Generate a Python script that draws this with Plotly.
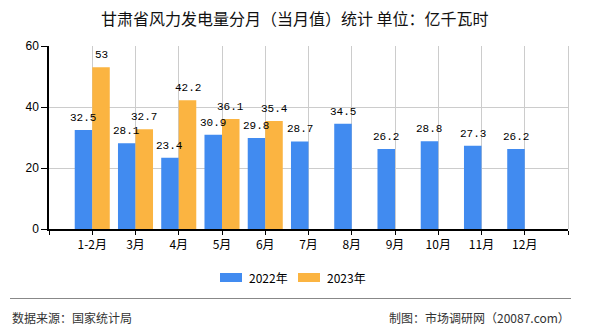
import math
import plotly.graph_objects as go

categories = ["1-2月", "3月", "4月", "5月", "6月", "7月", "8月", "9月", "10月", "11月", "12月"]
values_2022 = [32.5, 28.1, 23.4, 30.9, 29.8, 28.7, 34.5, 26.2, 28.8, 27.3, 26.2]
values_2023 = [53, 32.7, 42.2, 36.1, 35.4, None, None, None, None, None, None]
series_names = ["2022年", "2023年"]
colors = ["#418BF0", "#FBB441"]
y_ticks = [0, 20, 40, 60]

W, H = 590, 330
L, R, T, B = 49, 22, 46, 101
PW, PH = W - L - R, H - T - B
GRID = "#cccccc"
X_MIN, X_MAX = -1, len(categories)


def px_x(x):
    return (x - L) / PW


def px_y(y):
    return (H - B - y) / PH


xs = list(range(len(categories)))
fig = go.Figure()
for name, vals, col in zip(series_names, [values_2022, values_2023], colors):
    fig.add_trace(go.Bar(x=xs, y=vals, name=name, marker=dict(color=col, line=dict(width=0)),
                         showlegend=False, hoverinfo="skip"))

annotations = []
offsets = [-0.2025, 0.2025]
for vals, off in zip([values_2022, values_2023], offsets):
    for i, v in enumerate(vals):
        if v is None:
            continue
        annotations.append(dict(x=i + off, y=v, xref="x", yref="y", text=f"{v:g}", showarrow=False,
                                yanchor="middle", yshift=12,
                                font=dict(family="Liberation Mono", size=11, color="#000")))

annotations.append(dict(x=px_x(295), xref="paper", y=px_y(18), yref="paper", text="甘肃省风力发电量分月（当月值）统计 单位：亿千瓦时",
                        showarrow=False, xanchor="center", yanchor="middle",
                        font=dict(family="Noto Sans CJK SC", size=16, color="#111")))
shapes = []
# vertical grid lines at category centres (and the right border), snapped to whole pixels
for gx in xs + [X_MAX]:
    p = L + (gx - X_MIN) * PW / (X_MAX - X_MIN)
    p = math.floor(p) + 0.5
    shapes.append(dict(type="line", xref="paper", yref="paper", x0=px_x(p), x1=px_x(p), y0=0, y1=1,
                       layer="below", line=dict(color=GRID, width=1)))
leg = [(220, 242, 247), (298, 320, 325)]
for (x0, x1, tx), name, col in zip(leg, series_names, colors):
    shapes.append(dict(type="rect", xref="paper", yref="paper", x0=px_x(x0), x1=px_x(x1),
                       y0=px_y(282), y1=px_y(273), fillcolor=col, line=dict(width=0)))
    annotations.append(dict(x=px_x(tx), y=px_y(277.5), xref="paper", yref="paper", text=name, showarrow=False,
                            xanchor="left", yanchor="middle",
                            font=dict(family="Noto Sans CJK SC", size=12, color="#000")))
shapes.append(dict(type="line", xref="paper", yref="paper", x0=px_x(10), x1=px_x(571), y0=px_y(298.5), y1=px_y(298.5),
                   line=dict(color="#888", width=1)))
annotations.append(dict(x=px_x(10), y=px_y(317), xref="paper", yref="paper", text="数据来源：国家统计局", showarrow=False,
                        xanchor="left", yanchor="middle", font=dict(family="Noto Sans CJK SC", size=12, color="#333")))
annotations.append(dict(x=px_x(572), y=px_y(317), xref="paper", yref="paper", text="制图：市场调研网（20087.com）", showarrow=False,
                        xanchor="right", yanchor="middle", font=dict(family="Noto Sans CJK SC", size=12, color="#333")))

fig.update_layout(
    width=W, height=H, margin=dict(l=L, r=R, t=T, b=B, pad=0),
    paper_bgcolor="white", plot_bgcolor="white",
    barmode="group", bargap=0.19, bargroupgap=0,
    showlegend=False,
    annotations=annotations, shapes=shapes,
    xaxis=dict(type="linear", range=[X_MIN, X_MAX], tickmode="array",
               tickvals=[X_MIN] + xs + [X_MAX], ticktext=[""] + categories + [""],
               showgrid=False,
               showline=True, linecolor="#000", linewidth=1.5,
               ticks="outside", ticklen=4, tickcolor="#000", zeroline=False,
               tickfont=dict(family="Noto Sans CJK SC", size=12, color="#000")),
    yaxis=dict(range=[0, 60], tickvals=y_ticks, showgrid=True, gridcolor=GRID, gridwidth=1,
               showline=True, linecolor="#000", linewidth=1.5,
               ticks="outside", ticklen=6, tickcolor="#000", zeroline=False,
               tickfont=dict(family="Liberation Sans", size=12, color="#000")),
)

fig.write_html("out.html")
